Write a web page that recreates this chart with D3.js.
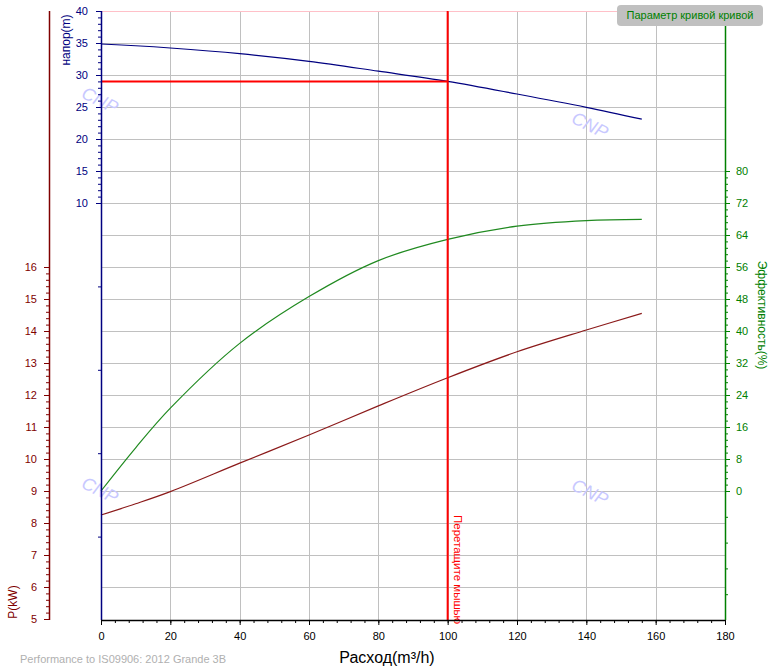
<!DOCTYPE html>
<html lang="ru">
<head>
<meta charset="UTF-8">
<title>Pump curve</title>
<style>
    body { margin: 0; background: #fff; }
    svg { display: block; font-family: 'Liberation Sans', Arial, sans-serif; }
    .tick text { font-size: 11px; }
</style>
</head>
<body>
<div id="chart"></div>
<script src="https://cdnjs.cloudflare.com/ajax/libs/d3/7.8.5/d3.min.js"></script>
<script>
    // данные
    const flow = [0, 10, 20, 40, 60, 80, 100, 120, 140, 156];
    const head = [34.84, 34.57, 34.22, 33.33, 32.14, 30.6, 29.0, 27.03, 24.95, 23.1];
    const power = [8.25, 8.6, 8.98, 9.87, 10.75, 11.66, 12.54, 13.35, 14.03, 14.55];
    const eff = [0, 10.8, 20.7, 36.9, 48.6, 57.6, 62.9, 66.2, 67.6, 67.9];
    const xTicks = [0, 20, 40, 60, 80, 100, 120, 140, 160, 180];
    const headTicks = [10, 15, 20, 25, 30, 35, 40];
    const powerTicks = [5, 6, 7, 8, 9, 10, 11, 12, 13, 14, 15, 16];
    const effTicks = [0, 8, 16, 24, 32, 40, 48, 56, 64, 72, 80];
    const cursorFlow = 100, cursorHead = 29;

    const W = 772, H = 670;
    const plotTop = 11, plotBottom = 620, plotLeft = 101, plotRight = 725, pAxisX = 49;

    const x = d3.scaleLinear().domain([0, 180]).range([plotLeft, plotRight]);
    const yHead = d3.scaleLinear().domain([10, 40]).range([203, plotTop]);
    const yPow = d3.scaleLinear().domain([5, 16]).range([619, 267]);
    const yEff = d3.scaleLinear().domain([0, 80]).range([491, 171]);
    // безымянные шкалы с засечками ниже подписанных диапазонов
    const yHeadLow = d3.scaleLinear().domain([0, 5]).range([plotBottom, 203]);
    const yEffLow = d3.scaleLinear().domain([0, 5]).range([plotBottom, 491]);

    const svg = d3.select('#chart').append('svg').attr('width', W).attr('height', H);

    // сетка
    const grid = svg.append('g').attr('stroke', '#c0c0c0').attr('stroke-width', 1);
    grid.selectAll('.h').data(d3.range(6, 24)).enter().append('line')
        .attr('x1', plotLeft).attr('x2', plotRight)
        .attr('y1', d => Math.round(yPow(d)) + 0.5).attr('y2', d => Math.round(yPow(d)) + 0.5);
    grid.selectAll('.v').data(xTicks.slice(1, -1)).enter().append('line')
        .attr('y1', plotTop).attr('y2', plotBottom)
        .attr('x1', d => Math.round(x(d)) + 0.5).attr('x2', d => Math.round(x(d)) + 0.5);
    svg.append('line').attr('x1', plotLeft).attr('x2', plotRight).attr('y1', plotTop + 0.5).attr('y2', plotTop + 0.5)
        .attr('stroke', '#ffc0c8');

    // водяные знаки
    [[100, 100], [590, 125], [100, 490], [590, 492]].forEach(p => {
        svg.append('text')
            .attr('transform', 'translate(' + p[0] + ',' + p[1] + ') rotate(26)')
            .attr('text-anchor', 'middle').attr('dy', '0.35em')
            .attr('font-size', 18).attr('font-style', 'italic')
            .attr('fill', '#c8c8ff').text('CNP');
    });

    // кривые
    function curve(ys, scale, color) {
        const line = d3.line()
            .x((d, i) => x(flow[i]))
            .y(d => scale(d))
            .curve(d3.curveCatmullRom.alpha(0.5));
        svg.append('path').datum(ys).attr('d', line)
            .attr('fill', 'none').attr('stroke', color).attr('stroke-width', 1.2);
    }
    curve(head, yHead, '#000080');
    curve(eff, yEff, '#208a20');
    curve(power, yPow, '#8b1a1a');

    // курсор
    svg.append('line').attr('x1', x(cursorFlow)).attr('x2', x(cursorFlow)).attr('y1', plotTop).attr('y2', plotBottom)
        .attr('stroke', '#ff0000').attr('stroke-width', 2);
    svg.append('line').attr('x1', plotLeft).attr('x2', x(cursorFlow)).attr('y1', yHead(cursorHead)).attr('y2', yHead(cursorHead))
        .attr('stroke', '#ff0000').attr('stroke-width', 2);
    svg.append('text')
        .attr('transform', 'translate(' + (x(cursorFlow) + 5) + ',515) rotate(90)')
        .attr('font-size', 11.5).attr('fill', '#ff0000').attr('dy', '-0.15em')
        .text('Перетащите мышью');

    // оси
    function styleAxis(g, color) {
        g.selectAll('.domain').remove();
        g.selectAll('line').attr('stroke', color);
        g.selectAll('text').attr('fill', color).attr('font-family', "'Liberation Sans', Arial, sans-serif");
    }

    // ось напора
    const gH = svg.append('g').attr('transform', 'translate(' + plotLeft + ',0)');
    gH.append('g').call(d3.axisLeft(yHead).tickValues(d3.range(10, 41, 1)).tickSize(3).tickFormat(''));
    gH.append('g').call(d3.axisLeft(yHead).tickValues(headTicks).tickSize(5).tickPadding(8));
    gH.append('g').call(d3.axisLeft(yHeadLow).tickValues([1, 2, 3, 4]).tickSize(3).tickFormat(''));
    styleAxis(gH, '#000080');
    gH.append('line').attr('x1', 0.5).attr('x2', 0.5).attr('y1', plotTop).attr('y2', plotBottom)
        .attr('stroke', '#000080').attr('stroke-width', 1.5);

    // ось мощности
    const gP = svg.append('g').attr('transform', 'translate(' + pAxisX + ',0)');
    gP.append('g').call(d3.axisLeft(yPow).tickValues(d3.range(50, 161, 2).map(d => d / 10)).tickSize(3).tickFormat(''));
    gP.append('g').call(d3.axisLeft(yPow).tickValues(powerTicks).tickSize(5).tickPadding(7));
    styleAxis(gP, '#800000');
    gP.append('line').attr('x1', 0.5).attr('x2', 0.5).attr('y1', plotTop).attr('y2', plotBottom)
        .attr('stroke', '#800000').attr('stroke-width', 1.5);

    // ось КПД
    const gE = svg.append('g').attr('transform', 'translate(' + plotRight + ',0)');
    gE.append('g').call(d3.axisRight(yEff).tickValues(d3.range(0, 51).map(d => d * 1.6)).tickSize(3).tickFormat(''));
    gE.append('g').call(d3.axisRight(yEff).tickValues(effTicks).tickSize(5).tickPadding(6));
    gE.append('g').call(d3.axisRight(yEffLow).tickValues([1, 2, 3, 4]).tickSize(3).tickFormat(''));
    styleAxis(gE, '#008000');
    gE.append('line').attr('x1', 0.5).attr('x2', 0.5).attr('y1', plotTop).attr('y2', plotBottom)
        .attr('stroke', '#008000').attr('stroke-width', 1.5);

    // ось расхода
    const gX = svg.append('g').attr('transform', 'translate(0,' + plotBottom + ')');
    gX.append('g').call(d3.axisBottom(x).tickValues(d3.range(0, 181, 4)).tickSize(3).tickFormat(''));
    gX.append('g').call(d3.axisBottom(x).tickValues(xTicks).tickSize(5).tickPadding(7));
    styleAxis(gX, '#000000');
    gX.append('line').attr('x1', plotLeft).attr('x2', plotRight).attr('y1', 0.5).attr('y2', 0.5)
        .attr('stroke', '#000000').attr('stroke-width', 1.5);

    // подписи осей
    svg.append('text').attr('transform', 'translate(70,40) rotate(-90)')
        .attr('text-anchor', 'middle').attr('font-size', 12).attr('fill', '#000080').text('напор(m)');
    svg.append('text').attr('transform', 'translate(17,602) rotate(-90)')
        .attr('text-anchor', 'middle').attr('font-size', 12).attr('fill', '#800000').text('P(kW)');
    svg.append('text').attr('transform', 'translate(758,315) rotate(90)')
        .attr('text-anchor', 'middle').attr('font-size', 12).attr('fill', '#008000').text('Эффективность(%)');
    svg.append('text').attr('x', 387).attr('y', 663)
        .attr('text-anchor', 'middle').attr('font-size', 16).attr('fill', '#000').text('Расход(m³/h)');
    svg.append('text').attr('x', 20).attr('y', 663)
        .attr('font-size', 11).attr('fill', '#b0b0b0').text('Performance to  IS09906: 2012 Grande 3B');

    // кнопка
    const btn = svg.append('g');
    btn.append('rect').attr('x', 617).attr('y', 5).attr('width', 146).attr('height', 21).attr('rx', 4)
        .attr('fill', '#c0c0c0');
    btn.append('text').attr('x', 690).attr('y', 15.5).attr('dy', '0.35em').attr('text-anchor', 'middle')
        .attr('font-size', 11).attr('fill', '#008000').text('Параметр кривой кривой');
</script>
</body>
</html>
